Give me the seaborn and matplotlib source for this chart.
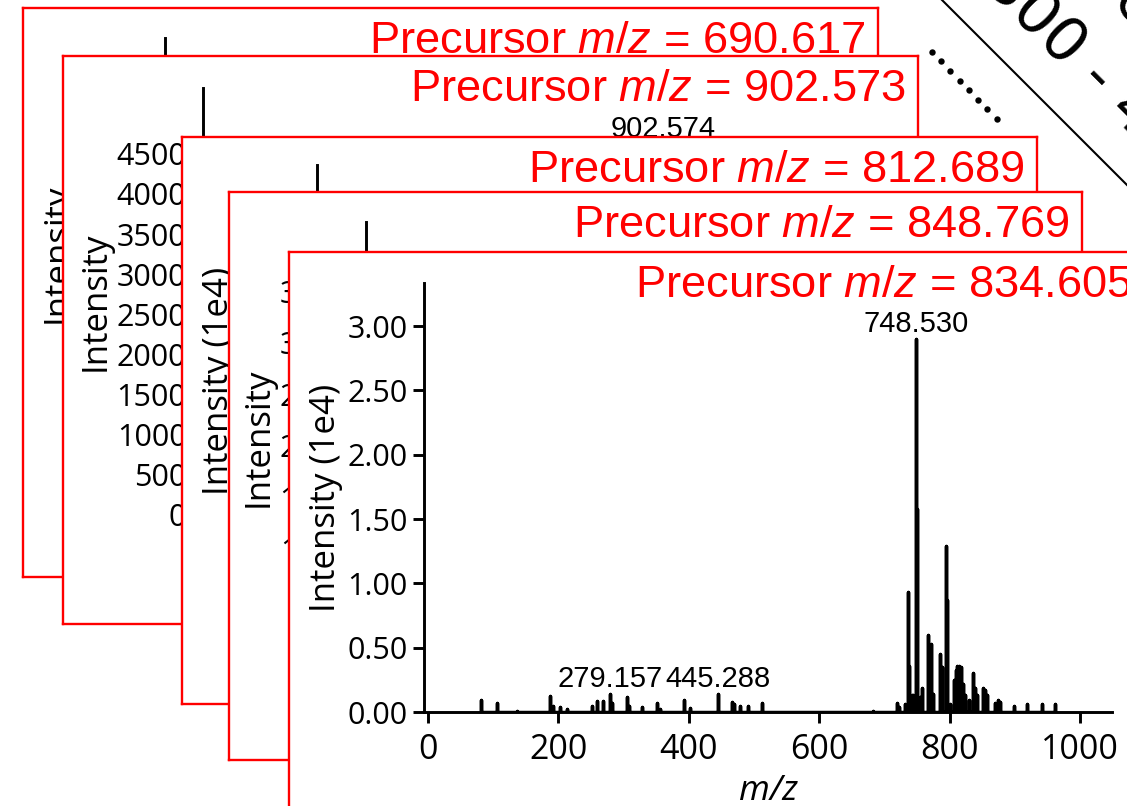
import numpy as np
import matplotlib
matplotlib.use("Agg")
import matplotlib.pyplot as plt
from matplotlib.ticker import FormatStrFormatter
import seaborn as sns

sns.set_theme(style="ticks")
plt.rcParams["font.family"] = ["Open Sans", "DejaVu Sans"]
plt.rcParams["mathtext.fontset"] = "custom"
plt.rcParams["mathtext.rm"] = "Liberation Sans"
plt.rcParams["mathtext.it"] = "Liberation Sans:italic"
plt.rcParams["text.color"] = "black"
plt.rcParams["axes.labelcolor"] = "black"
plt.rcParams["xtick.color"] = "black"
plt.rcParams["ytick.color"] = "black"

W, H = 1127, 806

# ---- data: stacked MS/MS spectra, back to front ----
precursors = ["690.617", "902.573", "812.689", "848.769", "834.605"]
ylabels = ["Intensity", "Intensity", "Intensity (1e4)", "Intensity", "Intensity (1e4)"]

# spectra behind the front one (base peaks)
mz_p1 = [690.618]
int_p1 = [4100]
mz_p2 = [902.574]
int_p2 = [4625]
mz_p3 = [812.690]
int_p3 = [1.85]
mz_p4 = [848.770]
int_p4 = [3630]

# front spectrum, precursor m/z 834.605 (intensity in 1e4)
mz_p5 = [80.8, 105.4, 136.0, 187.0, 192.0, 202.5, 212.7, 251.0, 258.7, 268.0,
         279.157, 282.0, 305.0, 307.6, 329.0, 351.0, 356.0, 392.0, 402.0,
         445.288, 466.0, 469.7, 478.5, 491.0, 512.0,
         683.0, 719.0, 723.0, 731.6, 735.6, 738.0, 742.0, 744.5, 748.530, 749.5,
         754.6, 757.0, 767.4, 771.5, 775.0, 785.0, 787.6, 793.7, 796.0, 801.0,
         807.0, 809.5, 812.0, 815.0, 818.0, 821.0, 824.0, 829.0, 836.4, 838.5,
         842.5, 851.0, 854.0, 857.8, 869.6, 873.5, 877.0, 899.0, 918.0, 941.0, 962.0]
int_p5 = [0.09, 0.07, 0.01, 0.125, 0.05, 0.035, 0.02, 0.05, 0.085, 0.085,
          0.14, 0.07, 0.12, 0.05, 0.04, 0.07, 0.02, 0.09, 0.03,
          0.14, 0.08, 0.06, 0.05, 0.05, 0.07,
          0.01, 0.07, 0.04, 0.06, 0.93, 0.36, 0.13, 0.13, 2.90, 1.58,
          0.12, 0.19, 0.60, 0.53, 0.14, 0.45, 0.35, 1.29, 0.87, 0.06,
          0.25, 0.33, 0.36, 0.36, 0.35, 0.22, 0.13, 0.09, 0.30, 0.19,
          0.13, 0.19, 0.17, 0.13, 0.07, 0.09, 0.08, 0.05, 0.06, 0.06, 0.06]

peaks_mz = [mz_p1, mz_p2, mz_p3, mz_p4, mz_p5]
peaks_int = [int_p1, int_p2, int_p3, int_p4, int_p5]
labelled = [[690.618], [902.574], [812.690], [848.770], [279.157, 445.288, 748.530]]

yticks = [np.arange(0, 4001, 500), np.arange(0, 4501, 500), np.arange(0, 1.51, 0.5),
          np.arange(0, 3501, 500), np.arange(0, 3.01, 0.5)]
scaled = [False, False, True, False, True]
xlims = [(-6, 1049), (-8, 1342), (-6, 1049), (-6, 1049), (-6, 1049)]

# ---- layout in pixels: (left, top, right, bottom) ----
frame_boxes = [(23, 8, 878, 577), (63, 56, 918, 624), (182, 137, 1037, 704),
               (229, 192, 1082, 760), (289, 252, 1144, 820)]
axes_boxes = [(165, 38, 846, 468), (203, 88, 886, 515), (317, 165, 1005, 597),
              (366, 222, 1052, 652), (424, 283, 1112, 712)]


def rect(l, t, r, b):
    return [l / W, 1 - b / H, (r - l) / W, (b - t) / H]


fig = plt.figure(figsize=(W / 100, H / 100), dpi=100)
fig.patch.set_facecolor("white")

for i in range(5):
    fl, ft, fr, fb = frame_boxes[i]
    axf = fig.add_axes(rect(fl, ft, fr, fb))
    axf.set_xlim(0, fr - fl)
    axf.set_ylim(fb - ft, 0)
    axf.set_facecolor("white")
    axf.set_xticks([])
    axf.set_yticks([])
    for s in axf.spines.values():
        s.set_visible(True)
        s.set_color("red")
        s.set_linewidth(1.7)
    axf.text(fr - fl - 12, 45, f"Precursor $m/z$ = {precursors[i]}",
             ha="right", va="baseline", color="red", fontsize=32.6,
             family="Liberation Sans")

    ax = fig.add_axes(rect(*axes_boxes[i]))
    ax.patch.set_visible(False)

    # stick spectrum as one path: baseline -> peak -> baseline
    mz = np.repeat(np.asarray(peaks_mz[i], float), 3)
    it = np.zeros_like(mz)
    it[1::3] = peaks_int[i]
    sns.lineplot(x=mz, y=it, sort=False, estimator=None, color="black",
                 linewidth=2.5, ax=ax, legend=False)

    top = max(peaks_int[i]) * 1.15
    ax.set_xlim(*xlims[i])
    ax.set_ylim(0, top)
    ax.set_xticks(np.arange(0, 1001, 200))
    ax.set_yticks(yticks[i])
    if scaled[i]:
        ax.yaxis.set_major_formatter(FormatStrFormatter("%.2f"))
    for side in ("top", "right"):
        ax.spines[side].set_visible(False)
    for side in ("left", "bottom"):
        ax.spines[side].set_color("black")
        ax.spines[side].set_linewidth(2.1)
    ax.tick_params(direction="out", length=8, width=2.1, color="black")
    ax.tick_params(axis="y", labelsize=22, pad=4)
    ax.tick_params(axis="x", labelsize=24.5, pad=7)
    ax.set_ylabel(ylabels[i], fontsize=25, labelpad=3)
    ax.set_xlabel("m/z", fontsize=25.5, fontstyle="italic", labelpad=5)

    for m in labelled[i]:
        v = peaks_int[i][peaks_mz[i].index(m)]
        ax.annotate(f"{m:.3f}", xy=(m, v), xytext=(0, 5), textcoords="offset points",
                    ha="center", va="baseline", fontsize=21,
                    family="Liberation Sans", annotation_clip=False)

# ---- "more spectra" marks in the corner ----
ov = fig.add_axes([0, 0, 1, 1])
ov.set_xlim(0, W)
ov.set_ylim(H, 0)
ov.axis("off")
ov.patch.set_visible(False)
ov.plot([930, 1140], [-12, 198], color="black", lw=1.5)
dots = np.linspace(0, 1, 8)
ov.plot(931.7 + dots * 65, 51.7 + dots * 67.3, "o", color="black", ms=4.6, mec="none")
ov.text(1097, 77, "300 - 400", rotation=-45, rotation_mode="anchor",
        ha="center", va="center", fontsize=44, family="DejaVu Sans")
ov.text(1150, 22, "Spectra", rotation=-45, rotation_mode="anchor",
        ha="center", va="center", fontsize=44, family="DejaVu Sans")

fig.savefig("out.png", dpi=100, facecolor="white")
